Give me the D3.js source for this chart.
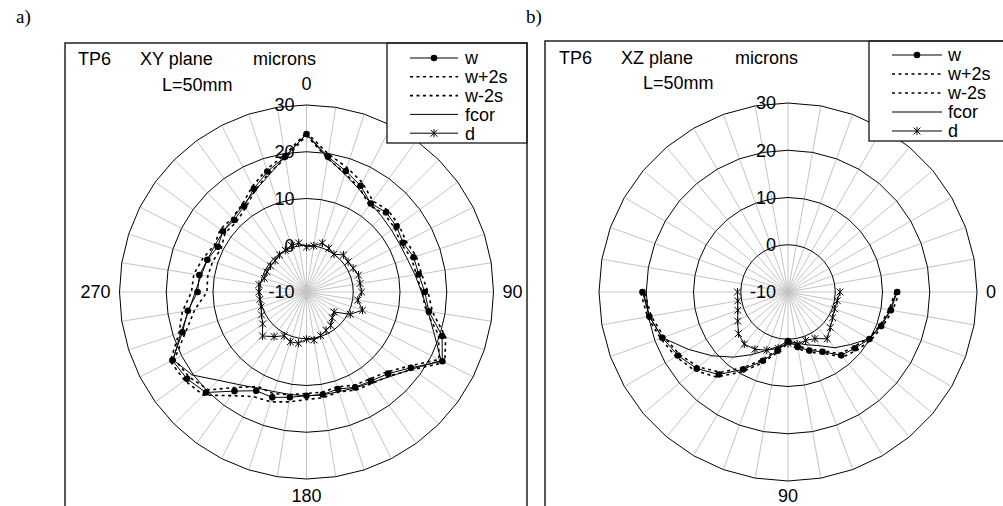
<!DOCTYPE html>
<html><head><meta charset="utf-8">
<script src="https://cdn.jsdelivr.net/npm/d3@7"></script>
<style>
body{margin:0;background:#fff}
svg text{font-family:"Liberation Sans",Arial,sans-serif;fill:#000}
</style>
</head><body>
<svg id="chart" width="1003" height="506"></svg>
<script>
// ---------- DATA ----------
const radialTicks = [-10, 0, 10, 20, 30];
const seriesNames = ["w", "w+2s", "w-2s", "fcor", "d"];

// a) XY plane : 40 categories, 9 degrees apart
const xyCategories = ["0","","","","","","","","","",
                      "90","","","","","","","","","",
                      "180","","","","","","","","","",
                      "270","","","","","","","","",""];
const xyW     = [23.8,19.3,17.2,15.5,13.4,14.1,13.8,13.2,14.1,14.3,15.3,16.5,20.5,22.6,17.6,14.7,13.5,12.9,11.8,12.2,
                 12.2,12.8,13.7,13.7,16.2,20.4,21.6,22.2,17.9,15.7,13.3,13.2,12.3,11.3,12.1,11.8,12.7,14.8,17.1,19.3];
const xyWplus = [24.1,19.9,18.0,16.3,14.1,14.7,14.4,13.9,14.7,14.9,16.0,17.3,21.3,23.2,18.2,15.3,14.1,13.5,12.5,12.9,
                 13.0,13.8,14.7,15.1,17.4,21.2,22.2,22.7,18.7,16.9,14.6,14.4,13.3,12.1,12.8,12.4,13.3,15.4,17.6,19.7];
const xyWminus= [23.5,18.9,16.7,15.0,12.9,13.6,13.3,12.7,13.6,13.8,14.7,15.9,19.7,21.8,17.0,14.2,13.0,12.4,11.3,11.7,
                 11.7,12.2,12.9,12.7,15.2,19.6,21.0,21.7,17.1,14.2,11.3,11.4,11.1,10.5,11.5,11.2,12.2,14.3,16.6,18.9];
const xyFcor  = [23.8,19.0,16.5,14.7,13.4,12.8,12.5,12.4,12.7,13.5,14.6,16.3,18.7,22.3,18.0,15.5,13.9,13.0,12.4,12.3,
                 12.2,12.2,12.4,13.1,14.5,16.7,20.2,22.0,18.3,15.5,13.8,12.8,12.3,12.0,12.0,12.3,13.0,14.3,16.2,19.3];
const xyD     = [-0.4,0.0,1.0,0.5,0.0,1.2,1.0,1.2,1.7,1.6,1.8,1.1,2.6,0.5,-2.7,-2.2,-1.2,-0.8,-0.2,0.4,
                 0.1,1.1,1.2,0.5,1.8,3.3,1.6,0.8,0.2,0.1,0.2,0.3,-0.5,-0.5,-0.5,-0.5,-0.2,0.0,0.5,0.6];

// b) XZ plane : 36 categories, 10 degrees apart; data only on categories 9..27
const xzCategories = ["","","","","","","","","","0",
                      "","","","","","","","","90","",
                      "","","","","","","","","","",
                      "","","","","",""];
const xzFirst  = 9;
const xzW      = [13.1,12.1,11.0,9.9,8.5,7.5,4.6,3.2,1.8,0.4,2.6,5.5,8.9,12.8,15.2,16.9,18.3,19.8,20.8];
const xzWplus  = [13.6,12.5,11.3,10.3,9.1,8.0,5.0,3.6,2.2,0.8,3.0,6.0,9.5,13.5,15.8,17.4,18.7,20.2,21.2];
const xzWminus = [12.7,11.7,10.7,9.6,8.1,7.1,4.3,2.9,1.5,0.1,2.3,5.1,8.4,12.2,14.7,16.5,17.9,19.4,20.4];
const xzFcor   = [12.9,12.0,10.8,9.8,7.3,5.4,3.1,1.9,1.0,0.4,1.7,3.1,5.3,8.0,11.0,14.3,18.3,19.8,20.6];
const xzD      = [1.0,0.6,0.5,0.9,1.7,2.9,1.4,0.9,1.2,0.9,2.1,3.1,4.0,4.4,3.7,2.3,1.3,0.8,0.7];

// ---------- DRAW ----------
const svg = d3.select("#chart");

const styles = {
  "w":    {dash:null,    width:1,   marker:"circle"},
  "w+2s": {dash:"3,3.5", width:1.6, marker:null},
  "w-2s": {dash:"3,3.5", width:1.6, marker:null},
  "fcor": {dash:null,    width:1,   marker:null},
  "d":    {dash:null,    width:1,   marker:"star"}
};
const starPath = "M0,-4L0,4M-3.4,-3.4L3.4,3.4M-3.4,3.4L3.4,-3.4";

function panel(p) {
  const n = p.categories.length;
  const r = d3.scaleLinear().domain([radialTicks[0], radialTicks[radialTicks.length-1]]).range([0, p.R]);
  const ang = d3.scaleLinear().domain([0, n]).range([0, 2*Math.PI]);
  const g = svg.append("g");
  const gc = g.append("g").attr("transform", `translate(${p.cx},${p.cy})`);

  // spokes
  gc.selectAll("line.spoke").data(d3.range(n)).join("line").attr("class","spoke")
    .attr("x1",0).attr("y1",0)
    .attr("x2", i => p.R*Math.sin(ang(i)))
    .attr("y2", i => -p.R*Math.cos(ang(i)))
    .attr("stroke","#c4c4c4").attr("stroke-width",1);

  // rings (polygons)
  const ring = v => d3.lineRadial().angle(i => ang(i)).radius(r(v)).curve(d3.curveLinearClosed)(d3.range(n));
  gc.selectAll("path.ring").data(radialTicks.filter(v => r(v) > 0)).join("path").attr("class","ring")
    .attr("d", ring).attr("fill","none").attr("stroke","#000").attr("stroke-width",1);

  // series
  const order = ["fcor","w+2s","w-2s","d","w"];
  order.forEach(name => {
    const vals = p.series[name];
    const pts = vals.map((v,k) => ({i: k + p.first, v}));
    const st = styles[name];
    const line = d3.lineRadial().angle(d => ang(d.i)).radius(d => r(d.v))
      .curve(p.closed ? d3.curveLinearClosed : d3.curveLinear);
    gc.append("path").attr("d", line(pts)).attr("fill","none")
      .attr("stroke","#000").attr("stroke-width", st.width)
      .attr("stroke-dasharray", st.dash);
    const px = d => r(d.v)*Math.sin(ang(d.i)), py = d => -r(d.v)*Math.cos(ang(d.i));
    if (st.marker === "circle") {
      gc.append("g").selectAll("circle").data(pts).join("circle")
        .attr("cx", px).attr("cy", py).attr("r", 3.3).attr("fill","#000");
    } else if (st.marker === "star") {
      gc.append("g").selectAll("path").data(pts).join("path")
        .attr("d", starPath).attr("transform", d => `translate(${px(d)},${py(d)})`)
        .attr("stroke","#000").attr("stroke-width",1).attr("fill","none");
    }
  });

  // radial value labels
  gc.selectAll("text.rt").data(radialTicks).join("text").attr("class","rt")
    .attr("x", -12).attr("y", v => -r(v)).attr("dy","0.35em")
    .attr("text-anchor","end").attr("font-size",18).text(v => v);

  // category labels
  p.categories.forEach((lab, i) => {
    if (!lab) return;
    const a = ang(i), s = Math.sin(a), c = Math.cos(a);
    let rr, anchor, dy;
    if (Math.abs(s) > 0.5) { rr = p.R + 9; anchor = s > 0 ? "start" : "end"; dy = "0.35em"; }
    else if (c > 0) { rr = p.R + 15; anchor = "middle"; dy = "0"; }
    else { rr = 197; anchor = "middle"; dy = "0.72em"; }
    gc.append("text").attr("x", rr*s).attr("y", -rr*c).attr("dy", dy)
      .attr("text-anchor", anchor).attr("font-size",18).text(lab);
  });

  // titles
  p.titles.forEach(t => g.append("text").attr("x", t[1]).attr("y", t[2]).attr("font-size",18).text(t[0]));

  // legend
  const L = p.legend;
  g.append("rect").attr("x",L.x).attr("y",L.y).attr("width",L.w).attr("height",L.h)
    .attr("fill","#fff").attr("stroke","#000").attr("stroke-width",1.2);
  seriesNames.forEach((name, k) => {
    const y = L.y + L.top + k*L.step, st = styles[name];
    g.append("line").attr("x1",L.x1).attr("x2",L.x2).attr("y1",y).attr("y2",y)
      .attr("stroke","#000").attr("stroke-width",st.width).attr("stroke-dasharray",st.dash);
    const mx = (L.x1+L.x2)/2;
    if (st.marker === "circle") g.append("circle").attr("cx",mx).attr("cy",y).attr("r",3.3).attr("fill","#000");
    if (st.marker === "star") g.append("path").attr("d",starPath).attr("transform",`translate(${mx},${y})`)
      .attr("stroke","#000").attr("fill","none");
    g.append("text").attr("x",L.tx).attr("y",y).attr("dy","0.35em").attr("font-size",18).text(name);
  });

  // frame
  g.append("rect").attr("x",p.box[0]).attr("y",p.box[1]).attr("width",p.box[2]).attr("height",p.box[3])
    .attr("fill","none").attr("stroke","#222").attr("stroke-width",1.5);

  // panel letter
  g.append("text").attr("x",p.letter[1]).attr("y",p.letter[2])
    .style("font-family","'Liberation Serif','Times New Roman',serif").attr("font-size",19).text(p.letter[0]);
}

panel({
  cx:306.5, cy:292, R:187, closed:true, first:0,
  categories: xyCategories,
  series: {"w":xyW, "w+2s":xyWplus, "w-2s":xyWminus, "fcor":xyFcor, "d":xyD},
  titles: [["TP6",78,65],["XY plane",140,65],["microns",253,65],["L=50mm",162,91]],
  legend: {x:387, y:43, w:140, h:100, top:15, step:18.8, x1:410, x2:458, tx:465},
  box: [65,43,462,500],
  letter: ["a)",16,23]
});
panel({
  cx:788, cy:292, R:189, closed:false, first:xzFirst,
  categories: xzCategories,
  series: {"w":xzW, "w+2s":xzWplus, "w-2s":xzWminus, "fcor":xzFcor, "d":xzD},
  titles: [["TP6",559,64],["XZ plane",621,64],["microns",735,64],["L=50mm",643,89]],
  legend: {x:869, y:41, w:150, h:100, top:14, step:19, x1:892, x2:942, tx:948},
  box: [545,41,480,500],
  letter: ["b)",526,23]
});
</script>
</body></html>
